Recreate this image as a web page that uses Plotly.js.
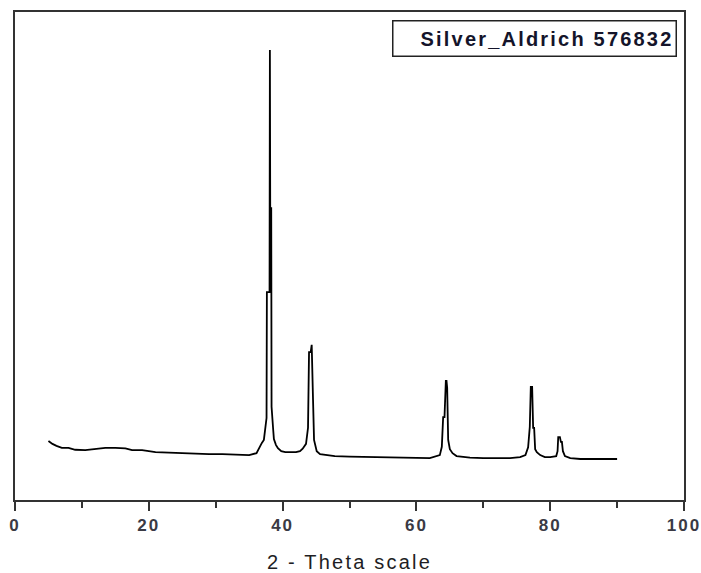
<!DOCTYPE html>
<html>
<head>
<meta charset="utf-8">
<script src="https://cdn.plot.ly/plotly-3.0.1.min.js"></script>
<style>
  html, body { margin: 0; padding: 0; background: #ffffff; }
  #chart { width: 701px; height: 573px; }
  /* wide letter spacing for the axis text and the series label */
  #chart .xtick text { letter-spacing: 2px; }
  #chart .xtitle { letter-spacing: 2.2px; }
  #chart .annotation-text { letter-spacing: 2.2px; }
</style>
</head>
<body>
<div id="chart"></div>
<script>
// Powder XRD pattern of silver (Aldrich 576832): 2-theta in degrees vs. intensity (a.u.)
const twoTheta = [
  5.0, 5.6, 6.2, 7.0, 8.0, 9.0, 10.5, 12.0, 13.5, 15.0, 16.5, 17.5, 19.0, 21.0, 23.0,
  25.0, 27.0, 29.0, 31.0, 33.0, 35.0, 36.1, 36.3, 36.9, 37.2, 37.6, 37.65, 38.05,
  38.1, 38.15, 38.3, 38.35, 38.6, 38.7, 39.0, 39.3, 39.8, 40.4, 41.1, 42.0, 42.6,
  43.0, 43.5, 43.8, 43.95, 44.2, 44.35, 44.45, 44.55, 44.7, 44.9, 45.1, 45.6, 46.5, 47.8,
  50.0, 55.0, 60.0, 62.0, 63.5, 63.8, 64.0, 64.2, 64.4, 64.5, 64.6, 64.75, 65.0, 65.4,
  66.0, 67.0, 68.0, 70.0, 72.0, 74.0, 75.5, 76.3, 76.7, 76.95, 77.1, 77.3, 77.45, 77.6,
  77.75, 78.0, 78.5, 79.2, 80.0, 80.9, 81.1, 81.2, 81.45, 81.6, 81.75, 81.9, 82.2, 83.0,
  84.5, 86.0, 87.5, 90.0
];
const intensity = [
  121, 115, 111, 107, 107, 103, 102, 104, 107, 107, 106, 102, 102, 98, 97,
  96, 94, 94, 94, 93, 92, 96, 102, 117, 123, 168, 426, 426,
  922, 598, 598, 191, 143, 125, 113, 106, 100, 98, 98, 98, 100,
  105, 115, 148, 303, 303, 318, 205, 205, 123, 110, 100, 94, 92, 90,
  89, 88, 87, 86, 92, 109, 170, 170, 244, 244, 230, 123, 104, 96,
  90, 88, 87, 86, 86, 86, 88, 92, 108, 150, 232, 232, 148, 148,
  104, 98, 92, 88, 88, 90, 100, 129, 129, 119, 119, 100, 90, 86,
  84, 84, 84, 84
];
const xTickVals = [0, 20, 40, 60, 80, 100];
const xTickText = ['0', '20', '40', '60', '80', '100'];
const seriesName = 'Silver_Aldrich 576832';

const trace = {
  x: twoTheta,
  y: intensity,
  type: 'scatter',
  mode: 'lines',
  name: seriesName,
  line: { color: '#000000', width: 1.8, shape: 'linear' },
  hoverinfo: 'x+y'
};

const layout = {
  width: 701,
  height: 573,
  margin: { l: 15, r: 17, t: 12, b: 73 },
  paper_bgcolor: '#ffffff',
  plot_bgcolor: '#ffffff',
  showlegend: false,
  xaxis: {
    range: [0, 100],
    tickmode: 'array',
    tickvals: xTickVals,
    ticktext: xTickText,
    ticks: 'outside',
    ticklen: 9,
    tickwidth: 2,
    tickcolor: '#333333',
    minor: { dtick: 10, ticks: 'outside', ticklen: 6, tickwidth: 2, tickcolor: '#333333' },
    showline: true,
    linecolor: '#333333',
    linewidth: 2,
    mirror: true,
    showgrid: false,
    zeroline: false,
    tickfont: { family: 'Liberation Sans Narrow, Arial Narrow, Liberation Sans, Arial', size: 17, color: '#3a3a44', weight: 'bold' },
    title: {
      text: '2 - Theta scale',
      font: { family: 'Liberation Sans, Arial', size: 20, color: '#1e1e24' },
      standoff: 24
    }
  },
  yaxis: {
    range: [0, 1000],
    showticklabels: false,
    ticks: '',
    showline: true,
    linecolor: '#333333',
    linewidth: 2,
    mirror: true,
    showgrid: false,
    zeroline: false
  },
  annotations: [{
    xref: 'paper', yref: 'paper',
    x: 0.989, y: 0.984,
    xanchor: 'right', yanchor: 'top',
    text: '<b>' + seriesName + '</b>',
    showarrow: false,
    align: 'right',
    width: 278,
    height: 30,
    borderpad: 2,
    bordercolor: '#222222',
    borderwidth: 1.5,
    bgcolor: '#ffffff',
    font: { family: 'Liberation Sans, Arial', size: 20, color: '#14142a' }
  }]
};

Plotly.newPlot('chart', [trace], layout, { displayModeBar: false, staticPlot: true });
</script>
</body>
</html>
